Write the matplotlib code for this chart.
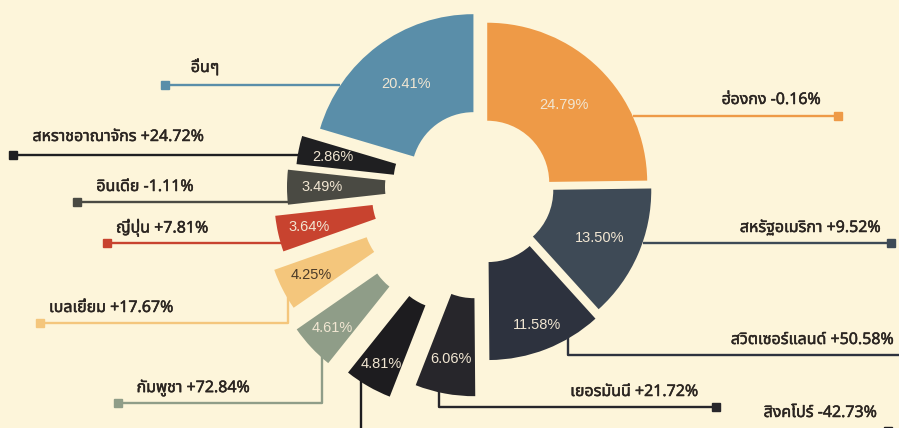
import math
import matplotlib
matplotlib.use("Agg")
import matplotlib.pyplot as plt
from matplotlib import font_manager
import matplotlib.patheffects as pe

# ---------------- data ----------------
shares = [24.79, 13.50, 11.58, 6.06, 4.81, 4.61, 4.25, 3.64, 3.49, 2.86, 20.41]
countries = ["ฮ่องกง", "สหรัฐอเมริกา", "สวิตเซอร์แลนด์", "เยอรมันนี", "สิงคโปร์",
             "กัมพูชา", "เบลเยี่ยม", "ญี่ปุ่น", "อินเดีย", "สหราชอาณาจักร", "อื่นๆ"]
changes = ["-0.16%", "+9.52%", "+50.58%", "+21.72%", "-42.73%",
           "+72.84%", "+17.67%", "+7.81%", "-1.11%", "+24.72%", ""]

# ---------------- style ----------------
colors = ["#EE9A47", "#3E4A56", "#2D323E", "#27262B", "#1D1C1F",
          "#8F9D88", "#F4C67C", "#C8432F", "#4A4A43", "#1F1F21", "#5A8EA9"]
pct_colors = ["#F1E6D2"] * 11
pct_colors[6] = "#4A3A28"
explode_px = [6, 9, 14, 50, 70, 75, 65, 50, 36, 28, 16]
pct_dist = [0.68, 0.74, 0.84, 0.78, 0.84, 0.82, 0.80, 0.80, 0.78, 0.78, 0.70]
BG = "#FDF5DA"

# ---------------- font with Thai glyphs ----------------
def has_thai(path):
    try:
        from fontTools.ttLib import TTFont
        f = TTFont(path, fontNumber=0, lazy=True)
        cmap = f.getBestCmap()
        return cmap is not None and 0x0E2D in cmap and 0x0E48 in cmap
    except Exception:
        return False

thai_fams = []
for fe in font_manager.fontManager.ttflist:
    if fe.name not in thai_fams and has_thai(fe.fname):
        thai_fams.append(fe.name)
pref = ["Noto Sans Thai", "Noto Sans Thai UI", "Noto Sans Thai Looped", "Loma",
        "Garuda", "Tlwg Typo", "Kinnari", "Norasi", "Sarabun"]
thai_font = None
for p in pref:
    if p in thai_fams:
        thai_font = p
        break
if thai_font is None and thai_fams:
    thai_font = thai_fams[0]
fams = ([thai_font] if thai_font else []) + ["DejaVu Sans"]

# ---------------- figure ----------------
W, H = 899, 428
fig = plt.figure(figsize=(W / 100, H / 100), dpi=100, facecolor=BG)
ax = fig.add_axes([0, 0, 1, 1])
ax.set_facecolor(BG)

cx, cy = 483, H - 187
R, r_in = 160, 62

wedges, _, autotexts = ax.pie(
    shares, colors=colors, explode=explode_px, startangle=90,
    counterclock=False, center=(cx, cy), radius=R,
    wedgeprops=dict(width=R - r_in, linewidth=0),
    autopct="%.2f%%", pctdistance=0.75, frame=True,
    textprops=dict(fontsize=10.5, family=["Liberation Sans", "DejaVu Sans"]))
for w, t, c, d in zip(wedges, autotexts, pct_colors, pct_dist):
    t.set_color(c)
    th = math.radians(0.5 * (w.theta1 + w.theta2))
    t.set_position((w.center[0] + d * w.r * math.cos(th),
                    w.center[1] + d * w.r * math.sin(th)))
ax.set_xlim(0, W)
ax.set_ylim(0, H)
ax.set_aspect("equal")
ax.axis("off")

# ---------------- leader lines + labels (layout in image pixel coords) ----
routes = [
    [(633, 116), (838, 116)],
    [(643, 243), (891, 243)],
    [(568, 326), (568, 355), (905, 355)],
    [(439, 392), (439, 407), (716, 407)],
    [(361, 378), (361, 431), (888, 431)],
    [(322, 348), (322, 403), (118, 403)],
    [(288, 277), (288, 323), (40, 323)],
    [(285, 243), (107, 243)],
    [(292, 202), (77, 202)],
    [(305, 155), (13, 155)],
    [(340, 85), (165, 85)],
]
text_pos = [(771, 100), (810, 228), (812, 340), (634, 392), (820, 413),
            (193, 388), (111, 308), (162, 228), (145, 187), (118, 137), (205, 68)]

for i, (route, tp) in enumerate(zip(routes, text_pos)):
    xs = [p[0] for p in route]
    ys = [H - p[1] for p in route]
    ax.plot(xs, ys, color=colors[i], lw=1.7, solid_capstyle="butt", zorder=3,
            clip_on=False)
    ax.plot([xs[-1]], [ys[-1]], marker="s", ms=5.5, color=colors[i], zorder=4,
            clip_on=False)
    label = countries[i] + (" " + changes[i] if changes[i] else "")
    ax.text(tp[0], H - tp[1], label, ha="center", va="center", fontsize=11.5,
            color="#2B2521", family=fams, fontweight="bold", zorder=5,
            path_effects=[pe.withStroke(linewidth=0.35, foreground="#2B2521")])

fig.savefig("out.png", dpi=100, facecolor=BG)
